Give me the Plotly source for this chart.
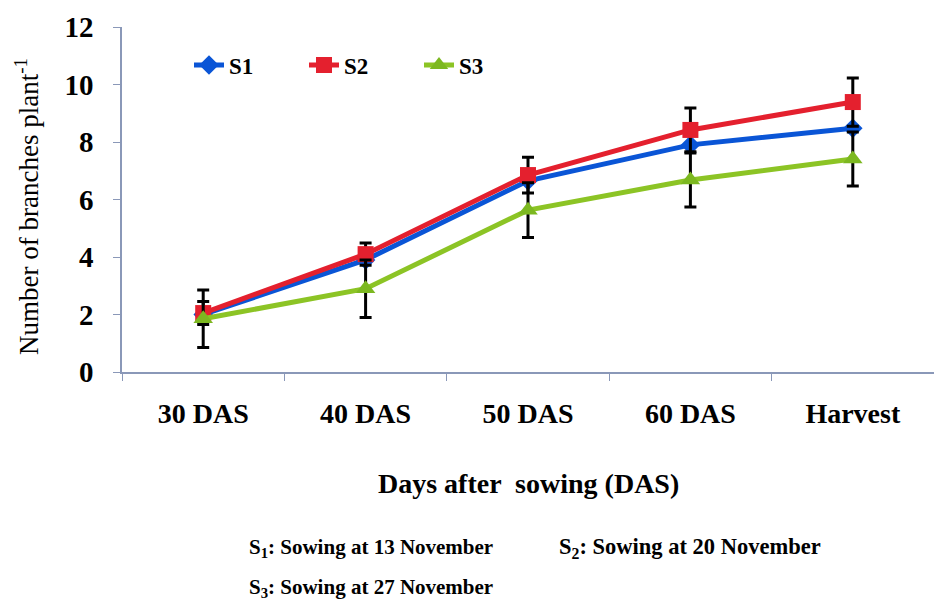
import plotly.graph_objects as go

# Sampling stages and branch counts per sowing date
stages = ["30 DAS", "40 DAS", "50 DAS", "60 DAS", "Harvest"]
s1_values = [2.0, 3.9, 6.65, 7.9, 8.48]
s2_values = [2.05, 4.1, 6.85, 8.42, 9.39]
s3_values = [1.85, 2.9, 5.63, 6.68, 7.41]
s2_errors = [0.4, 0.39, 0.62, 0.76, 0.84]
s3_errors = [1.0, 1.0, 0.95, 0.94, 0.94]
y_ticks = [0, 2, 4, 6, 8, 10, 12]

serif = "Liberation Serif"
axis_color = "#8a98b8"

W, H = 934, 601
L, R, T, B = 122, 0, 27, 229

fig = go.Figure()

fig.add_trace(go.Scatter(
    x=stages, y=s1_values, name="<b>S1</b>", mode="lines+markers",
    line=dict(color="#0a55d6", width=5),
    marker=dict(symbol="diamond", size=15, color="#0a55d6"),
))
fig.add_trace(go.Scatter(
    x=stages, y=s2_values, name="<b>S2</b>", mode="lines+markers",
    line=dict(color="#e4202e", width=5),
    marker=dict(symbol="square", size=16, color="#e4202e"),
    error_y=dict(type="data", array=s2_errors, color="black", thickness=3, width=6),
))
fig.add_trace(go.Scatter(
    x=stages, y=s3_values, name="<b>S3</b>", mode="lines+markers",
    line=dict(color="#8cc425", width=5),
    marker=dict(symbol="triangle-up", size=17, color="#7cb820"),
    error_y=dict(type="data", array=s3_errors, color="black", thickness=3, width=6),
))


def px_x(px):
    return (px - L) / (W - L - R)


def px_y(py):
    return (H - B - py) / (H - B - T)


fig.update_layout(
    width=W, height=H,
    margin=dict(l=L, r=R, t=T, b=B),
    paper_bgcolor="white", plot_bgcolor="white",
    font=dict(family=serif, color="black"),
    showlegend=True,
    legend=dict(
        orientation="h", x=px_x(189), y=px_y(65), xanchor="left", yanchor="middle",
        font=dict(family=serif, size=23, color="black"),
        bgcolor="rgba(0,0,0,0)", entrywidth=70, entrywidthmode="pixels",
    ),
    xaxis=dict(
        type="category", range=[-0.5, 4.5],
        showline=True, linecolor=axis_color, linewidth=1.5,
        ticks="outside", tickson="boundaries", ticklen=7, tickcolor=axis_color,
        showgrid=False, zeroline=False,
        tickfont=dict(family=serif, size=28, color="black"),
        tickvals=stages, ticktext=[f"<b>{s}</b>" for s in stages],
        ticklabelstandoff=16,
    ),
    yaxis=dict(
        range=[0, 12], tickvals=y_ticks, ticktext=[f"<b>{v}</b>" for v in y_ticks],
        showline=True, linecolor=axis_color, linewidth=1.5,
        ticks="outside", ticklen=7, tickcolor=axis_color,
        showgrid=False, zeroline=False,
        tickfont=dict(family=serif, size=29, color="black"),
        ticklabelstandoff=14,
    ),
)

# Axis titles and sowing date key
notes = [
    ("Number of branches plant<sup>-1</sup>", 27, 207, "center", 27, -90),
    ("<b>Days after  sowing (DAS)</b>", 528, 483, "center", 28, 0),
    ("<b>S<sub>1</sub>: Sowing at 13 November</b>", 247, 548, "left", 21, 0),
    ("<b>S<sub>2</sub>: Sowing at 20 November</b>", 557, 548, "left", 22.5, 0),
    ("<b>S<sub>3</sub>: Sowing at 27 November</b>", 247, 588, "left", 21, 0),
]
for text, x, y, anchor, size, angle in notes:
    fig.add_annotation(
        text=text, x=px_x(x), y=px_y(y), xref="paper", yref="paper",
        xanchor=anchor, yanchor="middle", showarrow=False, textangle=angle,
        font=dict(family=serif, size=size, color="black"),
    )

fig.write_html("out.html")
